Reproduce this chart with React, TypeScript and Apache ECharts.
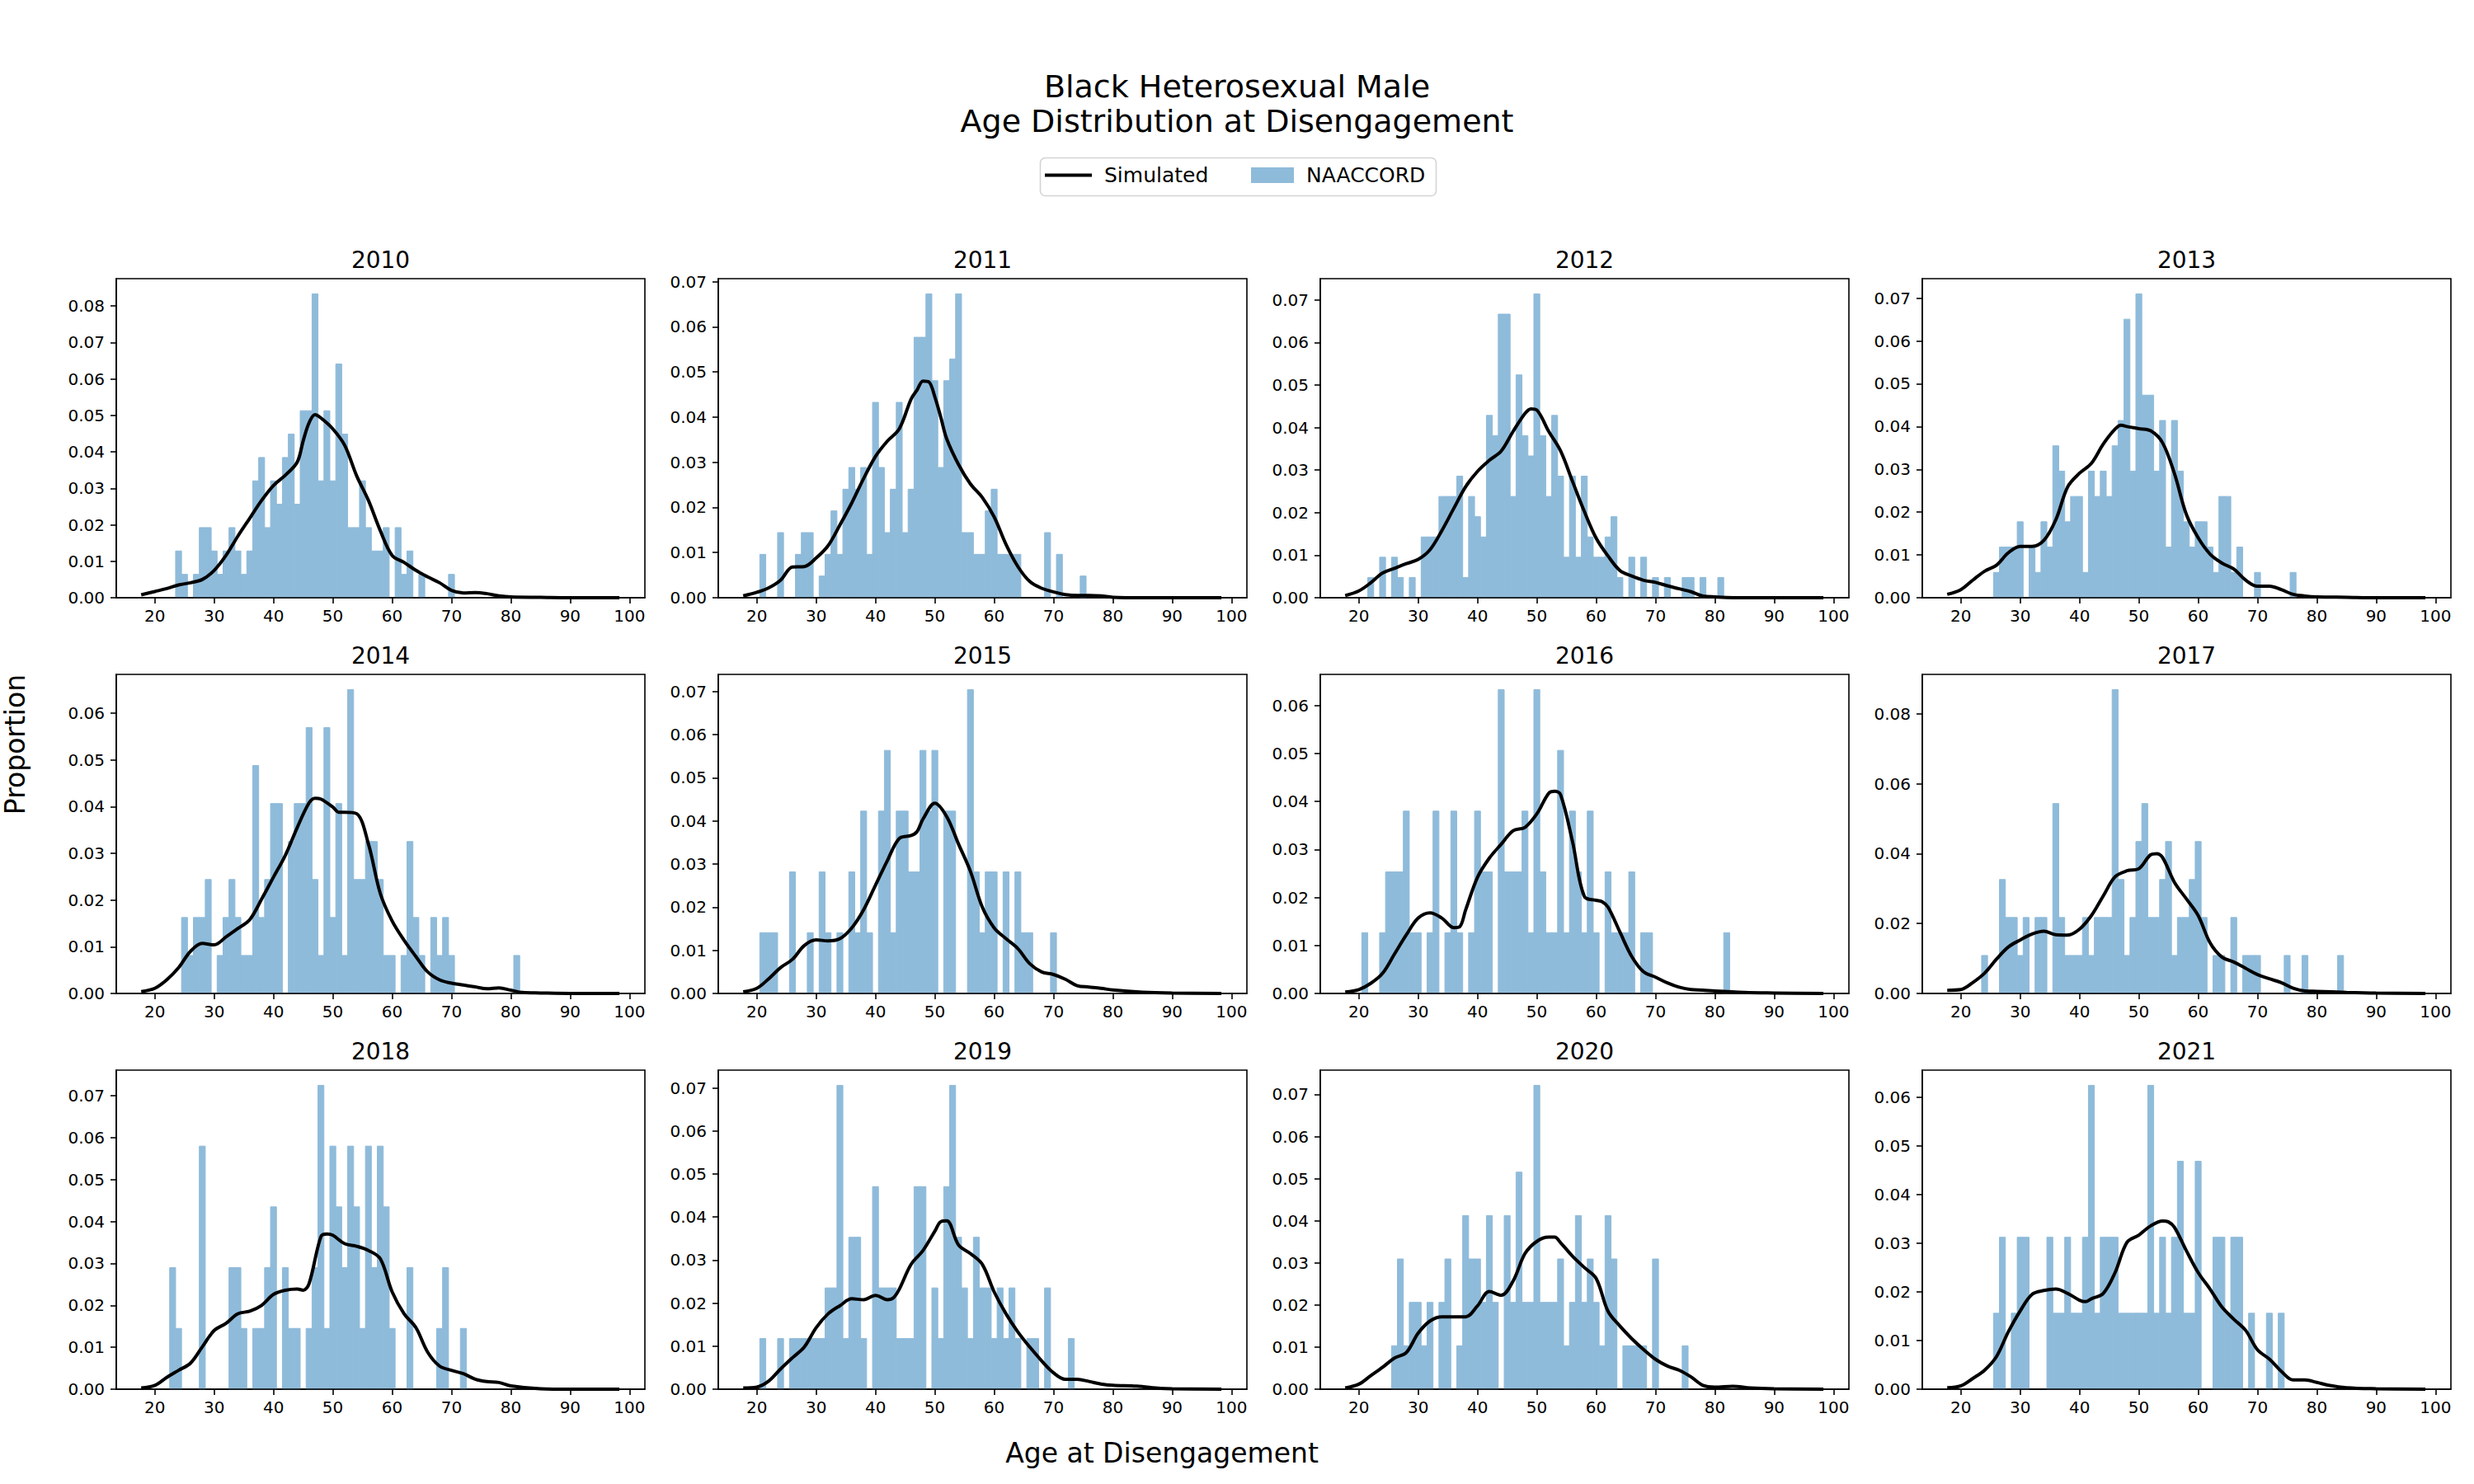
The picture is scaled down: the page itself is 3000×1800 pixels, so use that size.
import { useEffect, useRef } from 'react';
import * as echarts from 'echarts';

const FONT = 'DejaVu Sans';
const BAR_COLOR = '#8fbbda';
const LINE_COLOR = '#000000';

const YEARS = [2010, 2011, 2012, 2013, 2014, 2015, 2016, 2017, 2018, 2019, 2020, 2021];

// Histogram counts per single-year age bin, ages 20..84
const AGE_START = 20;
const COUNTS_2010 = [
  0, 0, 0, 0, 2, 1, 0, 1, 3, 3,
  2, 1, 2, 3, 2, 1, 2, 5, 6, 3,
  5, 4, 6, 7, 4, 8, 8, 13, 5, 8,
  5, 10, 7, 3, 3, 5, 3, 2, 2, 3,
  0, 3, 1, 2, 0, 1, 0, 0, 0, 0,
  1, 0, 0, 0, 0, 0, 0, 0, 0, 0,
  0, 0, 0, 0, 0,
];
const COUNTS_2011 = [
  0, 2, 0, 0, 3, 0, 0, 2, 3, 3,
  0, 1, 2, 4, 2, 5, 6, 5, 6, 2,
  9, 6, 3, 5, 9, 3, 5, 12, 12, 14,
  10, 6, 10, 11, 14, 3, 3, 2, 2, 4,
  5, 2, 2, 2, 2, 0, 0, 0, 0, 3,
  0, 2, 0, 0, 0, 1, 0, 0, 0, 0,
  0, 0, 0, 0, 0,
];
const COUNTS_2012 = [
  0, 0, 1, 0, 2, 0, 2, 1, 0, 1,
  0, 3, 3, 3, 5, 5, 5, 6, 1, 5,
  4, 3, 9, 8, 14, 14, 5, 11, 8, 7,
  15, 8, 5, 9, 6, 2, 6, 2, 6, 3,
  2, 2, 3, 4, 1, 0, 2, 0, 2, 0,
  1, 0, 1, 0, 0, 1, 1, 0, 1, 0,
  0, 1, 0, 0, 0,
];
const COUNTS_2013 = [
  0, 0, 0, 0, 0, 0, 1, 2, 2, 2,
  3, 0, 2, 1, 3, 2, 6, 5, 3, 4,
  4, 1, 5, 4, 5, 4, 6, 7, 11, 5,
  12, 8, 8, 5, 7, 2, 7, 5, 3, 2,
  3, 3, 2, 1, 4, 4, 1, 2, 0, 0,
  1, 0, 0, 0, 0, 0, 1, 0, 0, 0,
  0, 0, 0, 0, 0,
];
const COUNTS_2014 = [
  0, 0, 0, 0, 0, 2, 1, 2, 2, 3,
  0, 1, 2, 3, 2, 1, 1, 6, 2, 3,
  5, 5, 0, 4, 5, 5, 7, 3, 1, 7,
  2, 5, 1, 8, 3, 3, 4, 4, 3, 1,
  1, 0, 1, 4, 2, 1, 0, 2, 1, 2,
  1, 0, 0, 0, 0, 0, 0, 0, 0, 0,
  0, 1, 0, 0, 0,
];
const COUNTS_2015 = [
  0, 1, 1, 1, 0, 0, 2, 0, 0, 1,
  0, 2, 1, 0, 1, 0, 2, 1, 3, 1,
  0, 3, 4, 1, 3, 3, 2, 2, 4, 3,
  4, 0, 3, 3, 0, 0, 5, 2, 1, 2,
  2, 0, 2, 0, 2, 1, 1, 0, 0, 0,
  1, 0, 0, 0, 0, 0, 0, 0, 0, 0,
  0, 0, 0, 0, 0,
];
const COUNTS_2016 = [
  0, 1, 0, 0, 1, 2, 2, 2, 3, 1,
  1, 0, 1, 3, 0, 1, 3, 1, 0, 1,
  3, 2, 2, 0, 5, 2, 2, 2, 3, 1,
  5, 2, 1, 1, 4, 1, 3, 2, 1, 3,
  1, 0, 2, 1, 1, 1, 2, 0, 1, 1,
  0, 0, 0, 0, 0, 0, 0, 0, 0, 0,
  0, 0, 1, 0, 0,
];
const COUNTS_2017 = [
  0, 0, 0, 0, 1, 0, 0, 3, 2, 2,
  1, 2, 0, 2, 2, 0, 5, 2, 1, 1,
  1, 2, 1, 2, 2, 2, 8, 3, 1, 2,
  4, 5, 2, 2, 3, 4, 1, 2, 2, 3,
  4, 2, 0, 1, 1, 0, 2, 0, 1, 1,
  1, 0, 0, 0, 0, 1, 0, 0, 1, 0,
  0, 0, 0, 0, 1,
];
const COUNTS_2018 = [
  0, 0, 0, 2, 1, 0, 0, 0, 4, 0,
  0, 0, 0, 2, 2, 1, 0, 1, 1, 2,
  3, 0, 2, 1, 1, 0, 1, 2, 5, 1,
  4, 3, 2, 4, 3, 1, 4, 2, 4, 3,
  1, 0, 0, 2, 0, 0, 0, 0, 1, 2,
  0, 0, 1, 0, 0, 0, 0, 0, 0, 0,
  0, 0, 0, 0, 0,
];
const COUNTS_2019 = [
  0, 1, 0, 0, 1, 0, 1, 1, 1, 1,
  1, 1, 2, 2, 6, 1, 3, 3, 1, 0,
  4, 2, 2, 2, 1, 1, 1, 4, 4, 0,
  2, 1, 4, 6, 3, 2, 1, 3, 2, 2,
  1, 2, 1, 2, 1, 0, 1, 1, 0, 2,
  0, 0, 0, 1, 0, 0, 0, 0, 0, 0,
  0, 0, 0, 0, 0,
];
const COUNTS_2020 = [
  0, 0, 0, 0, 0, 0, 1, 3, 1, 2,
  2, 1, 2, 0, 2, 3, 0, 1, 4, 3,
  3, 2, 4, 2, 0, 4, 2, 5, 2, 2,
  7, 2, 2, 2, 3, 1, 2, 4, 2, 3,
  2, 1, 4, 3, 0, 1, 1, 1, 1, 0,
  3, 0, 0, 0, 0, 1, 0, 0, 0, 0,
  0, 0, 0, 0, 0,
];
const COUNTS_2021 = [
  0, 0, 0, 0, 0, 0, 1, 2, 0, 1,
  2, 2, 0, 0, 0, 2, 1, 1, 2, 1,
  1, 2, 4, 1, 2, 2, 2, 1, 1, 1,
  1, 1, 4, 1, 2, 1, 2, 3, 1, 1,
  3, 0, 0, 2, 2, 1, 2, 2, 0, 1,
  0, 0, 1, 0, 1, 0, 0, 0, 0, 0,
  0, 0, 0, 0, 0,
];

// Simulated density curves, [age, proportion]
const KDE_2010 = [
  [17.7, 0.0008], [20, 0.0017], [22, 0.0025], [24, 0.0035], [26, 0.0041], [28, 0.005],
  [30, 0.0075], [32, 0.0116], [34, 0.0169], [36, 0.0218], [38, 0.0267], [40, 0.0308],
  [42, 0.0336], [44, 0.0372], [45, 0.043], [46, 0.048], [47, 0.0502], [48, 0.0493],
  [50, 0.0463], [52, 0.0418], [54, 0.0335], [56, 0.0267], [58, 0.0184], [60, 0.0116],
  [62, 0.0097], [64, 0.0075], [66, 0.0057], [68, 0.0041], [70, 0.002], [72, 0.0013],
  [74, 0.0014], [76, 0.0011], [78, 0.0005], [80, 0.0002], [85, 0.0001], [90, 0], [98.3, 0],
];
const KDE_2011 = [
  [17.7, 0.0004], [20, 0.0012], [22, 0.0022], [24, 0.0039], [26, 0.0068], [28, 0.0069],
  [30, 0.0088], [32, 0.0115], [34, 0.0161], [36, 0.021], [38, 0.0264], [40, 0.0313],
  [42, 0.0347], [44, 0.0374], [46, 0.044], [47, 0.046], [48, 0.048], [49, 0.0478],
  [50, 0.0445], [51, 0.04], [52, 0.0352], [54, 0.0295], [56, 0.0252], [58, 0.0222],
  [60, 0.0179], [62, 0.0118], [64, 0.0069], [66, 0.0036], [68, 0.0021], [70, 0.0013],
  [72, 0.0007], [74, 0.0005], [76, 0.0005], [78, 0.0004], [80, 0.0001], [85, 0], [98.3, 0],
];
const KDE_2012 = [
  [17.7, 0.0005], [20, 0.0016], [22, 0.0035], [24, 0.0058], [26, 0.0069], [28, 0.008],
  [30, 0.009], [32, 0.0113], [34, 0.0158], [36, 0.021], [38, 0.0261], [40, 0.0297],
  [42, 0.0323], [44, 0.0345], [46, 0.0391], [48, 0.0433], [49, 0.0444], [50, 0.0441],
  [52, 0.0391], [54, 0.0345], [56, 0.0274], [58, 0.0203], [60, 0.014], [62, 0.0098],
  [64, 0.0064], [66, 0.0051], [68, 0.0041], [70, 0.0036], [72, 0.0028], [74, 0.0021],
  [76, 0.0014], [78, 0.0004], [80, 0.0002], [85, 0], [98.3, 0],
];
const KDE_2013 = [
  [17.7, 0.0008], [20, 0.0019], [22, 0.0041], [24, 0.0062], [26, 0.0076], [28, 0.0105],
  [30, 0.012], [32, 0.012], [34, 0.0134], [36, 0.0182], [38, 0.0259], [40, 0.0291],
  [42, 0.0314], [44, 0.0359], [46, 0.0394], [47, 0.0403], [48, 0.04], [50, 0.0395],
  [52, 0.039], [54, 0.0362], [56, 0.029], [58, 0.0195], [60, 0.014], [62, 0.0102],
  [64, 0.0081], [66, 0.0067], [68, 0.0041], [70, 0.0027], [72, 0.0027], [74, 0.0019],
  [76, 0.0008], [78, 0.0004], [80, 0.0002], [85, 0.0001], [90, 0], [98.3, 0],
];
const KDE_2014 = [
  [17.7, 0.0004], [20, 0.0011], [22, 0.0029], [24, 0.0055], [26, 0.009], [28, 0.0107],
  [30, 0.0104], [32, 0.0121], [34, 0.0139], [36, 0.0158], [38, 0.0202], [40, 0.0249],
  [42, 0.0296], [44, 0.0355], [46, 0.0408], [47, 0.0418], [48, 0.0416], [50, 0.0399],
  [51, 0.0388], [52, 0.0388], [54, 0.0385], [56, 0.032], [58, 0.0214], [60, 0.0155],
  [62, 0.0114], [64, 0.0079], [66, 0.0046], [68, 0.0029], [70, 0.0022], [72, 0.0018],
  [74, 0.0014], [76, 0.001], [78, 0.0012], [80, 0.0007], [82, 0.0002], [85, 0.0001],
  [90, 0], [98.3, 0],
];
const KDE_2015 = [
  [17.7, 0.0004], [20, 0.0012], [22, 0.0034], [24, 0.006], [26, 0.0079], [28, 0.0111],
  [30, 0.0124], [32, 0.0122], [34, 0.0127], [36, 0.0152], [38, 0.0194], [40, 0.0251],
  [42, 0.0308], [44, 0.0359], [46, 0.0366], [47, 0.0375], [48, 0.0404], [50, 0.0441],
  [52, 0.041], [54, 0.0346], [56, 0.0283], [58, 0.02], [60, 0.0152], [62, 0.0127],
  [64, 0.0104], [66, 0.0069], [68, 0.005], [70, 0.0044], [72, 0.0033], [74, 0.0018],
  [76, 0.0015], [78, 0.0012], [80, 0.0008], [85, 0.0003], [90, 0.0001], [98.3, 0],
];
const KDE_2016 = [
  [17.7, 0.0003], [20, 0.0008], [22, 0.0021], [24, 0.0042], [26, 0.0082], [28, 0.0122],
  [30, 0.0157], [32, 0.0168], [34, 0.0157], [36, 0.0137], [37, 0.0139], [38, 0.0174],
  [40, 0.0242], [42, 0.0282], [44, 0.0311], [46, 0.0339], [48, 0.0346], [50, 0.0374],
  [52, 0.0417], [53, 0.0421], [54, 0.0414], [56, 0.0317], [58, 0.0202], [60, 0.0194],
  [61, 0.0191], [62, 0.018], [64, 0.0128], [66, 0.0077], [68, 0.0045], [70, 0.0034],
  [72, 0.0022], [74, 0.0013], [76, 0.0008], [78, 0.0007], [80, 0.0005], [85, 0.0002],
  [90, 0.0001], [98.3, 0],
];
const KDE_2017 = [
  [17.7, 0.0009], [20, 0.0011], [22, 0.0031], [24, 0.0058], [26, 0.0098], [28, 0.0133],
  [30, 0.0153], [32, 0.017], [34, 0.0178], [36, 0.0168], [38, 0.0167], [40, 0.0184],
  [42, 0.0223], [44, 0.0279], [46, 0.0334], [48, 0.0351], [50, 0.0357], [52, 0.0397],
  [53, 0.04], [54, 0.0389], [56, 0.0318], [58, 0.0271], [60, 0.0223], [62, 0.0145],
  [64, 0.0104], [66, 0.009], [68, 0.0072], [70, 0.0054], [72, 0.0042], [74, 0.0031],
  [76, 0.0015], [78, 0.0007], [80, 0.0006], [85, 0.0003], [90, 0.0001], [98.3, 0],
];
const KDE_2018 = [
  [17.7, 0.0003], [20, 0.0009], [22, 0.0028], [24, 0.0045], [26, 0.0062], [28, 0.0101],
  [30, 0.014], [32, 0.0157], [34, 0.018], [36, 0.0186], [38, 0.02], [40, 0.0226],
  [42, 0.0236], [44, 0.0239], [45, 0.0236], [46, 0.0252], [48, 0.0364], [49, 0.037],
  [50, 0.0367], [52, 0.0347], [54, 0.0341], [56, 0.0331], [58, 0.0311], [60, 0.0232],
  [62, 0.018], [64, 0.0147], [66, 0.0088], [68, 0.0055], [70, 0.0045], [72, 0.0037],
  [74, 0.0024], [76, 0.0018], [78, 0.0016], [80, 0.0008], [85, 0.0001], [90, 0], [98.3, 0],
];
const KDE_2019 = [
  [17.7, 0.0003], [20, 0.0005], [22, 0.0019], [24, 0.0047], [26, 0.0073], [28, 0.0098],
  [30, 0.0143], [32, 0.0175], [34, 0.0194], [36, 0.021], [38, 0.0208], [40, 0.0218],
  [42, 0.0208], [43, 0.0212], [44, 0.0232], [46, 0.029], [48, 0.0322], [50, 0.0367],
  [51, 0.0389], [52, 0.0391], [54, 0.0335], [56, 0.0315], [58, 0.029], [60, 0.0226],
  [62, 0.0175], [64, 0.0133], [66, 0.0098], [68, 0.0066], [70, 0.0038], [72, 0.0023],
  [74, 0.0023], [76, 0.0018], [78, 0.0012], [80, 0.0009], [84, 0.0007], [88, 0.0002],
  [90, 0.0001], [98.3, 0],
];
const KDE_2020 = [
  [17.7, 0.0003], [20, 0.0012], [22, 0.0032], [24, 0.0052], [26, 0.0074], [28, 0.0087],
  [30, 0.0133], [32, 0.0162], [34, 0.0172], [36, 0.0172], [38, 0.0172], [40, 0.0198],
  [42, 0.0232], [44, 0.0223], [46, 0.0257], [48, 0.0322], [50, 0.0351], [52, 0.0361],
  [53, 0.0361], [54, 0.0348], [56, 0.0316], [58, 0.0289], [60, 0.0263], [62, 0.0185],
  [64, 0.015], [66, 0.012], [68, 0.0094], [70, 0.0071], [72, 0.0055], [74, 0.0045],
  [76, 0.0029], [78, 0.0009], [80, 0.0005], [83, 0.0007], [86, 0.0003], [90, 0.0001], [98.3, 0],
];
const KDE_2021 = [
  [17.7, 0.0003], [20, 0.0007], [22, 0.0022], [24, 0.0039], [26, 0.0067], [28, 0.0118],
  [30, 0.0161], [32, 0.0195], [34, 0.0203], [36, 0.0206], [38, 0.0197], [40, 0.0183],
  [41, 0.018], [42, 0.0186], [44, 0.0197], [46, 0.024], [48, 0.0302], [50, 0.0317],
  [52, 0.0336], [54, 0.0346], [55, 0.0344], [56, 0.0333], [58, 0.0285], [60, 0.024],
  [62, 0.0206], [64, 0.0169], [66, 0.0144], [68, 0.0121], [70, 0.0081], [72, 0.0062],
  [74, 0.0037], [76, 0.0019], [78, 0.0019], [80, 0.0014], [82, 0.0008], [85, 0.0003],
  [90, 0.0001], [98.3, 0],
];

const COUNTS_BY_YEAR = [
  COUNTS_2010, COUNTS_2011, COUNTS_2012, COUNTS_2013, COUNTS_2014, COUNTS_2015,
  COUNTS_2016, COUNTS_2017, COUNTS_2018, COUNTS_2019, COUNTS_2020, COUNTS_2021,
];
const KDE_BY_YEAR = [
  KDE_2010, KDE_2011, KDE_2012, KDE_2013, KDE_2014, KDE_2015,
  KDE_2016, KDE_2017, KDE_2018, KDE_2019, KDE_2020, KDE_2021,
];
const Y_TICK_STEP = [0.01, 0.01, 0.01, 0.01, 0.01, 0.01, 0.01, 0.02, 0.01, 0.01, 0.01, 0.01];
const X_TICKS = [20, 30, 40, 50, 60, 70, 80, 90, 100];
const X_MIN = 13.5;
const X_MAX = 102.6;

// Panel layout (pixels)
const GRID_LEFT = [141, 871, 1601, 2331];
const GRID_TOP = [338, 818, 1298];
const GRID_W = 641;
const GRID_H = 387;

function buildOption() {
  const grids: any[] = [];
  const xAxes: any[] = [];
  const yAxes: any[] = [];
  const series: any[] = [];
  const titles: any[] = [
    {
      text: 'Black Heterosexual Male', left: 1500, top: 105, padding: 0,
      textAlign: 'center', textVerticalAlign: 'middle',
      textStyle: { fontFamily: FONT, fontSize: 38, fontWeight: 'normal', color: '#000' },
    },
    {
      text: 'Age Distribution at Disengagement', left: 1500, top: 147, padding: 0,
      textAlign: 'center', textVerticalAlign: 'middle',
      textStyle: { fontFamily: FONT, fontSize: 38, fontWeight: 'normal', color: '#000' },
    },
    {
      text: 'Age at Disengagement', left: 1409, top: 1762, padding: 0,
      textAlign: 'center', textVerticalAlign: 'middle',
      textStyle: { fontFamily: FONT, fontSize: 33, fontWeight: 'normal', color: '#000' },
    },
  ];

  YEARS.forEach((year, i) => {
    const col = i % 4;
    const row = Math.floor(i / 4);
    const left = GRID_LEFT[col];
    const top = GRID_TOP[row];
    const counts = COUNTS_BY_YEAR[i];
    const total = counts.reduce((s, c) => s + c, 0);
    const bars: number[][] = [];
    let maxProp = 0;
    counts.forEach((c, k) => {
      if (c > 0) {
        const p = c / total;
        bars.push([AGE_START + k, p]);
        if (p > maxProp) maxProp = p;
      }
    });
    const yMax = maxProp * 1.05;
    const step = Y_TICK_STEP[i];
    const yTicks: number[] = [];
    for (let k = 0; k * step <= yMax + 1e-12; k++) yTicks.push(Number((k * step).toFixed(4)));

    grids.push({
      left, top, width: GRID_W, height: GRID_H,
      show: true, borderColor: '#000', borderWidth: 1.6, backgroundColor: 'transparent',
      containLabel: false,
    });

    titles.push({
      text: String(year), left: left + GRID_W / 2, top: top - 23, padding: 0,
      textAlign: 'center', textVerticalAlign: 'middle',
      textStyle: { fontFamily: FONT, fontSize: 28, fontWeight: 'normal', color: '#000' },
    });

    xAxes.push({
      gridIndex: i, type: 'value', min: X_MIN, max: X_MAX, z: 10,
      axisLine: { show: true, onZero: false, lineStyle: { color: '#000', width: 1.6 } },
      axisTick: { show: true, length: 7, inside: false, customValues: X_TICKS, lineStyle: { color: '#000', width: 1.6 } },
      axisLabel: {
        show: true, margin: 12, customValues: X_TICKS, fontFamily: FONT, fontSize: 20, color: '#000',
        formatter: (v: number) => String(Math.round(v)),
      },
      splitLine: { show: false },
    });
    yAxes.push({
      gridIndex: i, type: 'value', min: 0, max: yMax, z: 10,
      axisLine: { show: true, onZero: false, lineStyle: { color: '#000', width: 1.6 } },
      axisTick: { show: true, length: 7, inside: false, customValues: yTicks, lineStyle: { color: '#000', width: 1.6 } },
      axisLabel: {
        show: true, margin: 14, customValues: yTicks, fontFamily: FONT, fontSize: 20, color: '#000',
        formatter: (v: number) => v.toFixed(2),
      },
      splitLine: { show: false },
    });

    series.push({
      type: 'custom', name: 'NAACCORD', xAxisIndex: i, yAxisIndex: i, z: 2, silent: true,
      itemStyle: { color: BAR_COLOR },
      data: bars,
      renderItem: (_params: any, api: any) => {
        const age = api.value(0);
        const v = api.value(1);
        const p0 = api.coord([age - 0.5, v]);
        const p1 = api.coord([age + 0.5, 0]);
        return {
          type: 'rect',
          shape: { x: p0[0], y: p0[1], width: p1[0] - p0[0], height: p1[1] - p0[1] },
          style: { fill: BAR_COLOR, stroke: BAR_COLOR, lineWidth: 1 },
        };
      },
    });
    series.push({
      type: 'line', name: 'Simulated', xAxisIndex: i, yAxisIndex: i, z: 3, silent: true,
      data: KDE_BY_YEAR[i], smooth: 0.35, symbol: 'none', showSymbol: false,
      lineStyle: { color: LINE_COLOR, width: 4 }, itemStyle: { color: LINE_COLOR },
    });
  });

  return {
    animation: false,
    backgroundColor: '#ffffff',
    textStyle: { fontFamily: FONT },
    title: titles,
    legend: [
      {
        left: 1267, top: 200, padding: 0, selectedMode: false,
        icon: 'rect', itemWidth: 57, itemHeight: 4,
        textStyle: { fontFamily: FONT, fontSize: 25, color: '#000', padding: [0, 0, 0, 10] },
        data: [{ name: 'Simulated', itemStyle: { color: LINE_COLOR } }],
      },
      {
        left: 1517, top: 200, padding: 0, selectedMode: false,
        icon: 'rect', itemWidth: 52, itemHeight: 19,
        textStyle: { fontFamily: FONT, fontSize: 25, color: '#000', padding: [0, 0, 0, 10] },
        data: [{ name: 'NAACCORD', itemStyle: { color: BAR_COLOR } }],
      },
    ],
    graphic: [
      {
        type: 'rect', left: 1259, top: 189, z: 0, silent: true,
        shape: { width: 480, height: 46, r: 6 },
        style: { fill: 'none', stroke: '#d4d4d4', lineWidth: 1.6 },
      },
      {
        type: 'text', x: 18, y: 903, rotation: Math.PI / 2, silent: true,
        style: {
          text: 'Proportion', fontFamily: FONT, fontSize: 33, fill: '#000',
          align: 'center', verticalAlign: 'middle', textAlign: 'center', textVerticalAlign: 'middle',
        },
      },
    ],
    grid: grids,
    xAxis: xAxes,
    yAxis: yAxes,
    series,
  };
}

export default function App() {
  const ref = useRef<HTMLDivElement>(null);
  useEffect(() => {
    document.body.style.margin = '0';
    if (!ref.current) return;
    const chart = echarts.init(ref.current, undefined, { renderer: 'svg' });
    chart.setOption(buildOption() as any);
    return () => chart.dispose();
  }, []);
  return <div ref={ref} style={{ width: 3000, height: 1800 }} />;
}
